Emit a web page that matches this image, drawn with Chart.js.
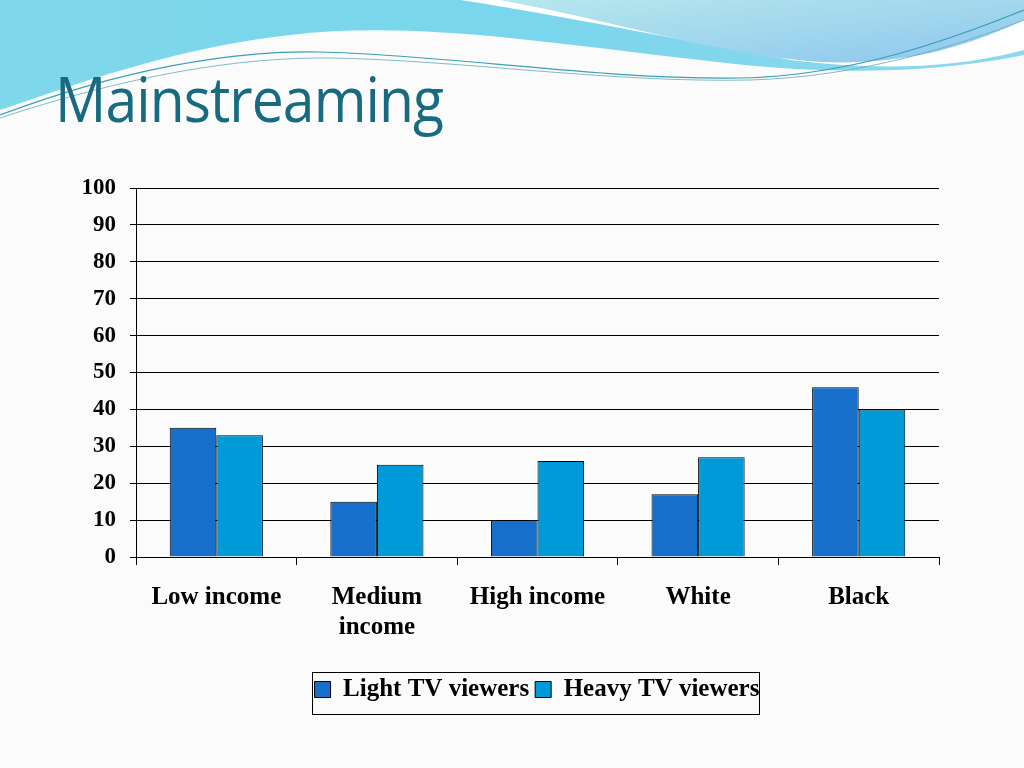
<!DOCTYPE html>
<html>
<head>
<meta charset="utf-8">
<script src="https://cdn.jsdelivr.net/npm/chart.js@4/dist/chart.umd.min.js"></script>
<style>
  body { margin: 0; width: 1024px; height: 768px; background: #fbfbfb; position: relative; overflow: hidden; }
  #bg { position: absolute; left: 0; top: 0; }
  h1 { position: absolute; left: 55px; top: 56px; margin: 0; font-family: "Open Sans", sans-serif; font-weight: 400;
       font-size: 62px; color: #176a80; letter-spacing: -1px; transform: scaleX(0.92); transform-origin: left; }
  #wrap { position: absolute; left: 0; top: 0; width: 1024px; height: 768px; }
</style>
</head>
<body>
<svg id="bg" width="1024" height="140" viewBox="0 0 1024 140">
  <defs>
    <linearGradient id="g1" x1="0" y1="0" x2="1" y2="0">
      <stop offset="0" stop-color="#7fd7ea"/>
      <stop offset="0.5" stop-color="#79d6ec"/>
      <stop offset="1" stop-color="#8fd8ec"/>
    </linearGradient>
    <linearGradient id="g2" x1="0" y1="0" x2="1" y2="1">
      <stop offset="0" stop-color="#b6e8ec"/>
      <stop offset="1" stop-color="#8ec6ee"/>
    </linearGradient>
  </defs>
  <path d="M0 0 H1024 V55 C900 80 780 70 700 60 C560 45 420 20 290 35 C170 48 60 90 0 110 Z" fill="url(#g1)"/>
  <path d="M460 0 H1024 V50 C950 70 870 70 790 60 C680 40 560 15 460 0 Z" fill="#ffffff"/>
  <path d="M500 0 H1024 V20 C960 50 900 65 820 62 C720 55 610 20 500 0 Z" fill="url(#g2)"/>
  <path d="M0 115 C120 70 230 50 320 52 C450 55 600 80 740 78 C850 76 950 40 1024 10" stroke="#3a9fb8" stroke-width="1.2" fill="none"/>
  <path d="M0 118 C130 75 240 57 330 58 C460 60 610 83 750 80 C860 77 960 45 1024 20" stroke="#6ab" stroke-width="0.8" fill="none"/>
</svg>
<h1>Mainstreaming</h1>
<div id="wrap"><canvas id="c"></canvas></div>
<script>
const categories = [['Low income'], ['Medium', 'income'], ['High income'], ['White'], ['Black']];
const lightViewers = [35, 15, 10, 17, 46];
const heavyViewers = [33, 25, 26, 27, 40];
const seriesNames = ['Light TV viewers', 'Heavy TV viewers'];

const serif = 'Liberation Serif';

// move the legend under the plot centre and frame it
const legendBox = {
  id: 'legendBox',
  afterLayout(chart) {
    const l = chart.legend;
    const shift = (136 + 938) / 2 - (l.left + l.right) / 2;
    l.left += shift;
    l.right += shift;
  },
  afterDraw(chart) {
    const ctx = chart.ctx;
    ctx.save();
    ctx.strokeStyle = '#000';
    ctx.lineWidth = 1;
    ctx.strokeRect(312.5, 672.5, 447, 42);
    ctx.restore();
  }
};

new Chart(document.getElementById('c'), {
  type: 'bar',
  data: {
    labels: categories,
    datasets: [
      { label: seriesNames[0], data: lightViewers, backgroundColor: '#166fcb', borderColor: '#000', borderWidth: 1 },
      { label: seriesNames[1], data: heavyViewers, backgroundColor: '#009ad8', borderColor: '#000', borderWidth: 1 }
    ]
  },
  options: {
    responsive: true,
    maintainAspectRatio: false,
    animation: false,
    layout: { padding: { top: 188, right: 85, bottom: 56, left: 0 } },
    datasets: { bar: { categoryPercentage: 0.58, barPercentage: 1 } },
    scales: {
      x: {
        offset: true,
        grid: { offset: true, drawOnChartArea: false, color: '#000', tickLength: 8 },
        border: { color: '#000' },
        ticks: { color: '#000', font: { family: serif, size: 25, weight: 'bold' }, padding: 18, maxRotation: 0 },
        afterFit(s) { s.height = 114; }
      },
      y: {
        min: 0, max: 100,
        ticks: { stepSize: 10, color: '#000', font: { family: serif, size: 23, weight: 'bold' }, padding: 14 },
        grid: { color: '#000', tickLength: 6 },
        border: { color: '#000' },
        afterFit(s) { s.width = 136; }
      }
    },
    plugins: {
      legend: {
        position: 'bottom',
        labels: { color: '#000', font: { family: serif, size: 25, weight: 'bold' }, boxWidth: 16, boxHeight: 16, padding: 6,
          generateLabels(chart) {
            return chart.data.datasets.map((d, i) => ({ text: d.label, fillStyle: d.backgroundColor, strokeStyle: '#000', lineWidth: 1, datasetIndex: i }));
          } }
      },
      tooltip: { enabled: false }
    }
  },
  plugins: [legendBox]
});
</script>
</body>
</html>
